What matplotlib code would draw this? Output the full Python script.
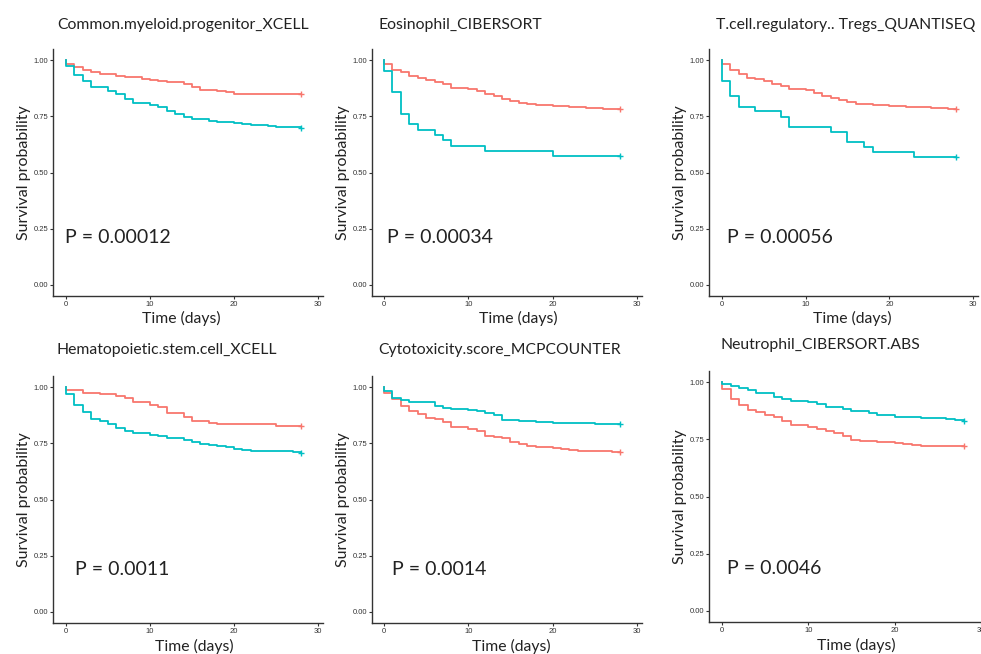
import matplotlib
matplotlib.use('Agg')
import matplotlib.pyplot as plt

RED = '#F8766D'
TEAL = '#00BFC4'

titles = [
    'Common.myeloid.progenitor_XCELL',
    'Eosinophil_CIBERSORT',
    'T.cell.regulatory.. Tregs_QUANTISEQ',
    'Hematopoietic.stem.cell_XCELL',
    'Cytotoxicity.score_MCPCOUNTER',
    'Neutrophil_CIBERSORT.ABS',
]
pvals = ['P = 0.00012', 'P = 0.00034', 'P = 0.00056',
         'P = 0.0011', 'P = 0.0014', 'P = 0.0046']

# step curves: (days, survival) for each panel, red group and teal group
red_t = [
    [0, 0.05, 1, 2, 3, 4, 6, 7, 9, 10, 11, 12, 14, 15, 16, 18, 19, 20, 28],
    [0, 0.05, 1, 2, 3, 4, 5, 6, 7, 8, 10, 11, 12, 13, 14, 15, 16, 17, 18, 20, 22, 24, 26, 28],
    [0, 0.05, 1, 2, 3, 4, 5, 6, 7, 8, 10, 11, 12, 13, 14, 15, 16, 17, 18, 20, 22, 25, 27, 28],
    [0, 0.05, 2, 4, 6, 7, 8, 10, 11, 12, 14, 15, 17, 18, 25, 28],
    [0, 0.05, 1, 2, 3, 4, 5, 6, 7, 8, 10, 11, 12, 13, 14, 15, 16, 17, 18, 20, 21, 22, 23, 25, 27, 28],
    [0, 0.05, 1, 2, 3, 4, 5, 6, 7, 8, 10, 11, 12, 13, 14, 15, 16, 18, 20, 21, 22, 23, 28],
]
red_s = [
    [1.0, 0.982, 0.97, 0.955, 0.948, 0.94, 0.93, 0.924, 0.918, 0.914, 0.908, 0.902,
     0.893, 0.881, 0.869, 0.863, 0.857, 0.851, 0.848],
    [1.0, 0.981, 0.958, 0.948, 0.930, 0.923, 0.914, 0.905, 0.895, 0.878, 0.871, 0.863,
     0.851, 0.840, 0.828, 0.817, 0.810, 0.804, 0.800, 0.795, 0.790, 0.787, 0.785, 0.782],
    [1.0, 0.985, 0.958, 0.94, 0.923, 0.915, 0.906, 0.896, 0.884, 0.872, 0.866, 0.856,
     0.841, 0.832, 0.822, 0.813, 0.807, 0.804, 0.800, 0.795, 0.792, 0.788, 0.785, 0.785],
    [1.0, 0.988, 0.976, 0.969, 0.96, 0.952, 0.932, 0.923, 0.91, 0.885, 0.869, 0.851,
     0.842, 0.837, 0.828, 0.828],
    [1.0, 0.975, 0.947, 0.917, 0.894, 0.88, 0.865, 0.859, 0.844, 0.822, 0.814, 0.805,
     0.785, 0.78, 0.776, 0.755, 0.747, 0.739, 0.733, 0.728, 0.724, 0.721, 0.718, 0.715,
     0.712, 0.712],
    [1.0, 0.971, 0.927, 0.901, 0.879, 0.869, 0.857, 0.85, 0.832, 0.813, 0.806, 0.796,
     0.785, 0.78, 0.766, 0.747, 0.743, 0.739, 0.734, 0.73, 0.727, 0.721, 0.72],
]
teal_t = [
    [0, 0.05, 1, 2, 3, 5, 6, 7, 8, 10, 11, 12, 13, 14, 15, 17, 18, 20, 21, 22, 24, 25, 28],
    [0, 0.05, 1, 2, 3, 4, 6, 7, 8, 12, 20, 28],
    [0, 0.05, 1, 2, 4, 7, 8, 13, 15, 17, 18, 23, 28],
    [0, 0.05, 1, 2, 3, 4, 5, 6, 7, 8, 10, 11, 12, 14, 15, 16, 17, 18, 19, 20, 21, 22, 27, 28],
    [0, 0.05, 1, 2, 3, 6, 7, 8, 10, 11, 12, 13, 14, 16, 18, 19, 20, 25, 28],
    [0, 0.05, 1, 2, 3, 4, 6, 7, 8, 10, 11, 12, 14, 15, 17, 18, 20, 23, 26, 27, 28],
]
teal_s = [
    [1.0, 0.973, 0.933, 0.906, 0.881, 0.863, 0.848, 0.829, 0.81, 0.802, 0.792, 0.773,
     0.759, 0.747, 0.74, 0.73, 0.724, 0.721, 0.716, 0.712, 0.707, 0.703, 0.70],
    [1.0, 0.951, 0.857, 0.762, 0.715, 0.691, 0.666, 0.643, 0.618, 0.594, 0.572, 0.572],
    [1.0, 0.909, 0.841, 0.792, 0.773, 0.749, 0.703, 0.682, 0.634, 0.614, 0.591, 0.569, 0.569],
    [1.0, 0.97, 0.92, 0.889, 0.859, 0.85, 0.837, 0.82, 0.805, 0.795, 0.789, 0.785, 0.776,
     0.765, 0.755, 0.747, 0.741, 0.737, 0.733, 0.727, 0.722, 0.718, 0.71, 0.708],
    [1.0, 0.982, 0.951, 0.944, 0.933, 0.918, 0.909, 0.903, 0.899, 0.892, 0.884, 0.877,
     0.855, 0.85, 0.847, 0.844, 0.84, 0.835, 0.835],
    [1.0, 0.993, 0.984, 0.975, 0.966, 0.952, 0.937, 0.927, 0.92, 0.915, 0.905, 0.893,
     0.883, 0.874, 0.864, 0.857, 0.847, 0.845, 0.841, 0.835, 0.83],
]

# pixel boxes of each panel (left, top, right, bottom) and x limits
boxes = [(53, 49, 323, 296), (372, 49, 642, 296), (709, 49, 978, 296),
         (53, 376, 323, 623), (372, 376, 642, 623), (709, 371, 981, 622)]
xlims = [(-1.55, 30.6), (-1.42, 30.6), (-1.55, 30.6),
         (-1.55, 30.6), (-1.42, 30.6), (-1.5, 29.9)]
title_pos = [(57, 25), (378, 25), (716, 25), (57, 350), (378, 350), (720, 345)]
pval_pos = [(-0.1, 0.21), (0.3, 0.21), (0.6, 0.21),
            (1.1, 0.19), (0.9, 0.19), (0.6, 0.185)]
xlab_center = [181, 518, 852, 194, 511, 856]  # x pixel of "Time (days)" centre

W, H = 981, 654
fig = plt.figure(figsize=(W / 100, H / 100), dpi=100)
FONT = 'Lato'

for i in range(6):
    l, t, r, b = boxes[i]
    ax = fig.add_axes([l / W, 1 - b / H, (r - l) / W, (b - t) / H])
    ax.step(red_t[i], red_s[i], where='post', color=RED, lw=1.3)
    ax.step(teal_t[i], teal_s[i], where='post', color=TEAL, lw=1.3)
    ax.plot(red_t[i][-1], red_s[i][-1], '+', color=RED, ms=4, mew=1)
    ax.plot(teal_t[i][-1], teal_s[i][-1], '+', color=TEAL, ms=4, mew=1)
    ax.set_xlim(*xlims[i])
    ax.set_ylim(-0.05, 1.05)
    ax.set_xticks([0, 10, 20, 30])
    ax.set_yticks([0, 0.25, 0.5, 0.75, 1.0])
    ax.set_yticklabels(['0.00', '0.25', '0.50', '0.75', '1.00'])
    ax.tick_params(labelsize=5.5, colors='#333333', length=2, width=0.8, pad=1.5)
    for lab in ax.get_xticklabels() + ax.get_yticklabels():
        lab.set_family('Liberation Sans')
    for s in ['top', 'right']:
        ax.spines[s].set_visible(False)
    for s in ['left', 'bottom']:
        ax.spines[s].set_color('#333333')
        ax.spines[s].set_linewidth(1)
    ax.set_xlabel('Time (days)', family=FONT, fontsize=11.3, color='#222222')
    # put the x label where the reference has it (not always centred)
    lab_y = -22 if i < 3 else -23
    ax.xaxis.set_label_coords((xlab_center[i] - l) / (r - l), lab_y / (b - t))
    ax.xaxis.label.set_va('center')
    ax.set_ylabel('Survival probability', family=FONT, fontsize=11.5, color='#222222',
                  labelpad=1.5)
    ax.text(pval_pos[i][0], pval_pos[i][1], pvals[i], family=FONT, fontsize=14,
            color='#222222', ha='left', va='center')
    fig.text(title_pos[i][0] / W, 1 - title_pos[i][1] / H, titles[i], family=FONT,
             fontsize=11.3, color='#222222', ha='left', va='center')

fig.savefig('out.png', dpi=100)
